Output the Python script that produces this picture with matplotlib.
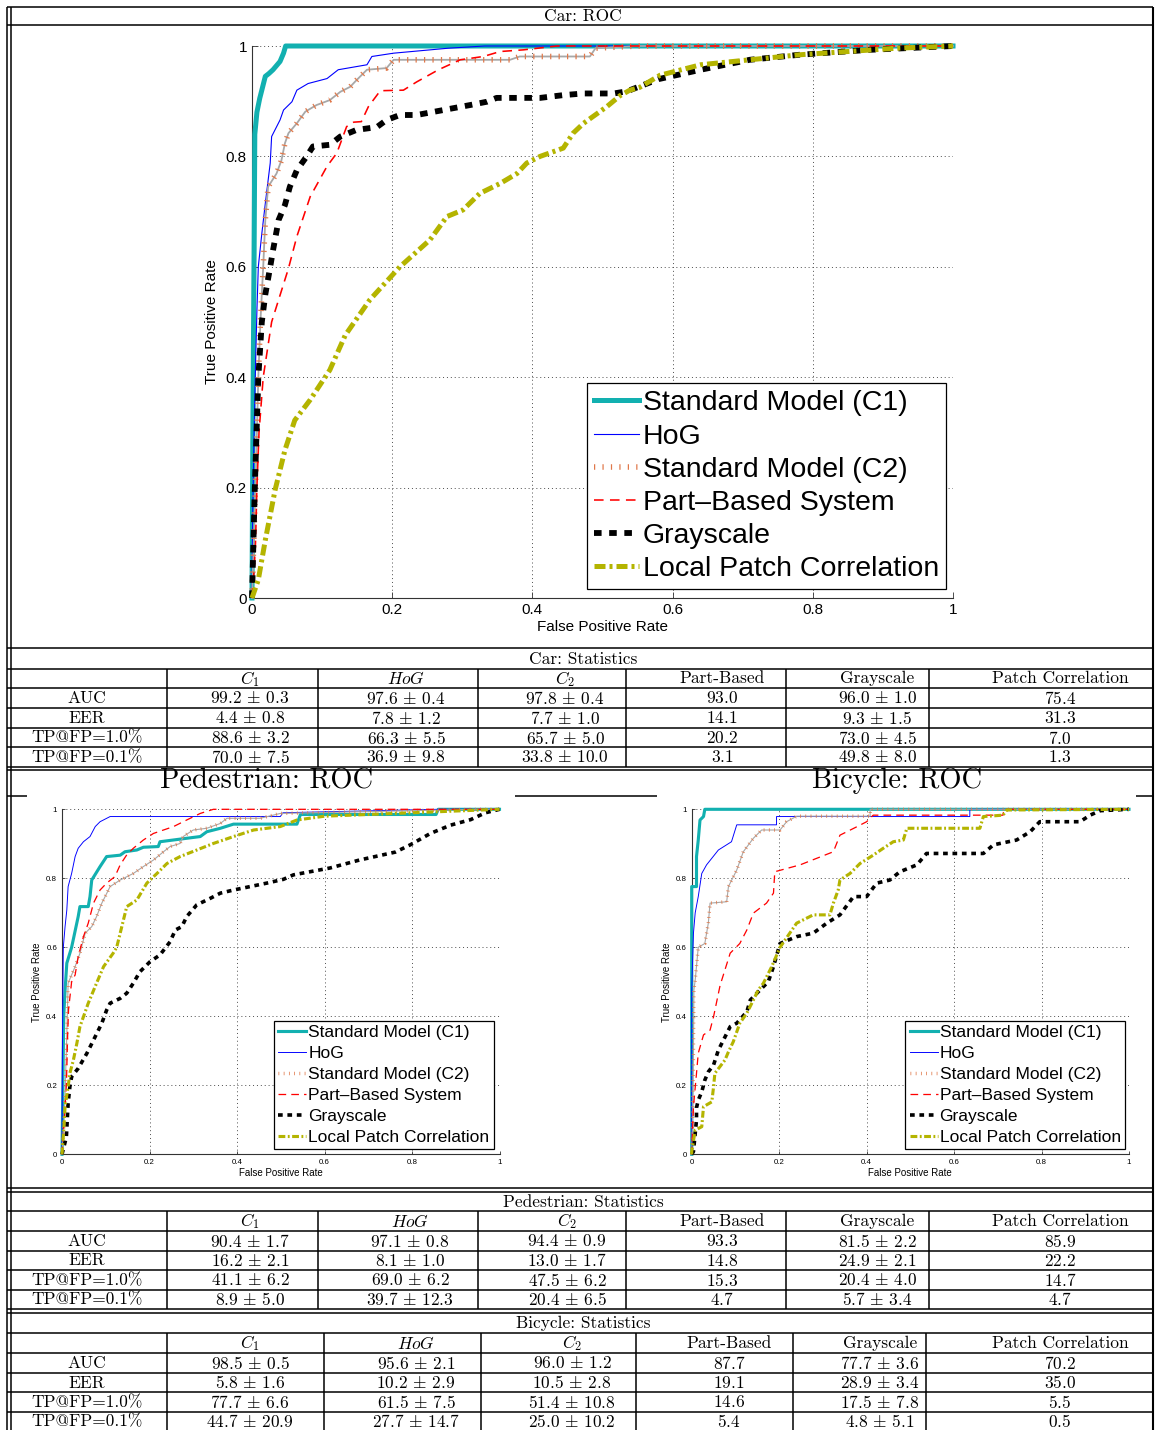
import matplotlib
matplotlib.use('Agg')
import matplotlib.pyplot as plt

W, H = 1156, 1430

plt.rcParams['font.family'] = ['Liberation Sans', 'DejaVu Sans']
plt.rcParams['mathtext.fontset'] = 'cm'
SERIF = ['cmr10', 'DejaVu Serif']

# ---------------- ROC data ----------------
# Car
car_c1_fpr = [0, 0.001, 0.002, 0.003, 0.004, 0.007, 0.011, 0.014, 0.019, 0.024, 0.030, 0.040, 0.045, 0.048, 1.0]
car_c1_tpr = [0, 0.25, 0.45, 0.62, 0.84, 0.88, 0.905, 0.92, 0.945, 0.95, 0.957, 0.972, 0.987, 1.0, 1.0]
car_hog_fpr = [0, 0.001, 0.003, 0.005, 0.007, 0.009, 0.014, 0.019, 0.026, 0.028, 0.040, 0.045, 0.057, 0.064,
               0.080, 0.107, 0.123, 0.164, 0.171, 0.202, 0.280, 0.332, 1.0]
car_hog_tpr = [0, 0.15, 0.30, 0.42, 0.52, 0.60, 0.66, 0.715, 0.788, 0.836, 0.866, 0.884, 0.899, 0.92,
               0.932, 0.941, 0.957, 0.966, 0.981, 0.987, 0.996, 1.0, 1.0]
car_c2_fpr = [0, 0.003, 0.006, 0.009, 0.012, 0.016, 0.019, 0.023, 0.035, 0.042, 0.047, 0.052, 0.064, 0.076,
              0.092, 0.111, 0.126, 0.140, 0.149, 0.164, 0.192, 0.202, 0.368, 0.382, 0.482, 0.490, 0.55, 1.0]
car_c2_tpr = [0, 0.12, 0.25, 0.40, 0.50, 0.60, 0.685, 0.745, 0.769, 0.793, 0.824, 0.842, 0.86, 0.881,
              0.893, 0.902, 0.917, 0.926, 0.938, 0.957, 0.96, 0.975, 0.975, 0.981, 0.981, 0.996, 1.0, 1.0]
car_part_fpr = [0, 0.003, 0.005, 0.007, 0.010, 0.016, 0.028, 0.052, 0.064, 0.083, 0.107, 0.121, 0.135, 0.145,
                0.156, 0.166, 0.173, 0.183, 0.216, 0.235, 0.266, 0.297, 0.330, 0.354, 0.387, 0.435, 1.0]
car_part_tpr = [0, 0.05, 0.10, 0.20, 0.30, 0.40, 0.50, 0.597, 0.655, 0.727, 0.782, 0.806, 0.854, 0.862,
                0.863, 0.89, 0.902, 0.919, 0.92, 0.935, 0.957, 0.975, 0.981, 0.99, 0.993, 1.0, 1.0]
car_gray_fpr = [0, 0.002, 0.004, 0.009, 0.014, 0.019, 0.026, 0.030, 0.038, 0.047, 0.054, 0.064, 0.078, 0.087,
                0.111, 0.126, 0.149, 0.178, 0.192, 0.211, 0.235, 0.273, 0.311, 0.335, 0.349, 0.411, 0.444,
                0.473, 0.516, 0.535, 0.58, 0.64, 0.71, 0.78, 0.88, 1.0]
car_gray_tpr = [0, 0.1, 0.2, 0.4, 0.5, 0.55, 0.60, 0.63, 0.685, 0.712, 0.745, 0.775, 0.80, 0.818,
                0.821, 0.836, 0.848, 0.853, 0.866, 0.875, 0.875, 0.884, 0.893, 0.899, 0.906, 0.906, 0.911,
                0.914, 0.914, 0.918, 0.94, 0.957, 0.975, 0.984, 0.993, 1.0]
car_lpc_fpr = [0, 0.009, 0.019, 0.033, 0.047, 0.061, 0.083, 0.111, 0.133, 0.168, 0.211, 0.254, 0.278, 0.301,
               0.325, 0.354, 0.378, 0.392, 0.411, 0.444, 0.458, 0.473, 0.506, 0.525, 0.539, 0.553, 0.582,
               0.64, 0.71, 0.78, 0.92, 1.0]
car_lpc_tpr = [0, 0.033, 0.105, 0.196, 0.268, 0.322, 0.359, 0.413, 0.476, 0.54, 0.60, 0.649, 0.691, 0.703,
               0.733, 0.751, 0.769, 0.788, 0.80, 0.815, 0.842, 0.86, 0.89, 0.91, 0.92, 0.925, 0.947,
               0.966, 0.975, 0.984, 0.996, 1.0]

# Pedestrian
ped_c1_fpr = [0, 0.002, 0.004, 0.007, 0.011, 0.022, 0.037, 0.041, 0.060, 0.064, 0.068, 0.087, 0.102, 0.133,
              0.144, 0.171, 0.186, 0.220, 0.224, 0.285, 0.316, 0.331, 0.362, 0.392, 0.537, 0.545, 0.855, 0.86, 1.0]
ped_c1_tpr = [0, 0.2, 0.4, 0.476, 0.554, 0.60, 0.689, 0.718, 0.718, 0.747, 0.795, 0.834, 0.863, 0.867,
              0.877, 0.882, 0.89, 0.892, 0.906, 0.916, 0.921, 0.935, 0.945, 0.957, 0.957, 0.985, 0.985, 1.0, 1.0]
ped_hog_fpr = [0, 0.001, 0.002, 0.003, 0.007, 0.011, 0.014, 0.022, 0.030, 0.037, 0.049, 0.064, 0.076, 0.087,
               0.110, 0.499, 0.505, 0.86, 1.0]
ped_hog_tpr = [0, 0.3, 0.476, 0.60, 0.66, 0.708, 0.776, 0.814, 0.863, 0.887, 0.906, 0.921, 0.95, 0.964,
               0.979, 0.979, 0.99, 1.0, 1.0]
ped_c2_fpr = [0, 0.005, 0.010, 0.014, 0.030, 0.041, 0.053, 0.068, 0.079, 0.091, 0.110, 0.133, 0.163, 0.186,
              0.209, 0.232, 0.247, 0.270, 0.277, 0.300, 0.331, 0.362, 0.377, 0.453, 0.499, 0.95, 1.0]
ped_c2_tpr = [0, 0.1, 0.3, 0.496, 0.544, 0.583, 0.641, 0.66, 0.689, 0.728, 0.776, 0.795, 0.814, 0.834,
              0.853, 0.877, 0.892, 0.901, 0.921, 0.94, 0.945, 0.959, 0.974, 0.974, 0.988, 1.0, 1.0]
ped_part_fpr = [0, 0.005, 0.010, 0.013, 0.015, 0.022, 0.030, 0.037, 0.049, 0.060, 0.072, 0.087, 0.102, 0.121,
                0.133, 0.148, 0.163, 0.186, 0.209, 0.255, 0.285, 0.316, 0.346, 1.0]
ped_part_tpr = [0, 0.1, 0.2, 0.35, 0.42, 0.50, 0.52, 0.573, 0.631, 0.67, 0.728, 0.766, 0.786, 0.805,
                0.839, 0.868, 0.887, 0.911, 0.93, 0.95, 0.969, 0.988, 1.0, 1.0]
ped_gray_fpr = [0, 0.010, 0.014, 0.018, 0.022, 0.037, 0.057, 0.072, 0.091, 0.102, 0.110, 0.133, 0.148, 0.163,
                0.178, 0.201, 0.224, 0.247, 0.259, 0.274, 0.285, 0.308, 0.339, 0.362, 0.392, 0.430, 0.468,
                0.506, 0.529, 0.613, 0.68, 0.762, 0.796, 0.842, 0.888, 0.934, 0.968, 1.0]
ped_gray_tpr = [0, 0.05, 0.148, 0.196, 0.225, 0.249, 0.293, 0.331, 0.38, 0.418, 0.438, 0.452, 0.467, 0.496,
                0.529, 0.558, 0.578, 0.616, 0.65, 0.66, 0.689, 0.723, 0.742, 0.757, 0.766, 0.776, 0.786,
                0.797, 0.81, 0.83, 0.853, 0.876, 0.897, 0.93, 0.954, 0.97, 0.99, 1.0]
ped_lpc_fpr = [0, 0.004, 0.007, 0.014, 0.018, 0.026, 0.034, 0.041, 0.060, 0.079, 0.095, 0.117, 0.125, 0.133,
               0.148, 0.171, 0.194, 0.217, 0.240, 0.270, 0.308, 0.346, 0.392, 0.438, 0.499, 0.537, 0.6, 0.8, 1.0]
ped_lpc_tpr = [0, 0.07, 0.138, 0.196, 0.235, 0.273, 0.322, 0.37, 0.438, 0.496, 0.544, 0.583, 0.60, 0.641,
               0.718, 0.737, 0.786, 0.814, 0.843, 0.863, 0.882, 0.901, 0.921, 0.94, 0.95, 0.969, 0.98, 0.99, 1.0]

# Bicycle
bic_c1_fpr = [0, 0.0, 0.011, 0.011, 0.015, 0.019, 0.027, 0.030, 1.0]
bic_c1_tpr = [0, 0.776, 0.776, 0.863, 0.911, 0.969, 0.979, 1.0, 1.0]
bic_hog_fpr = [0, 0.0, 0.004, 0.008, 0.015, 0.023, 0.034, 0.061, 0.091, 0.103, 0.194, 0.194, 0.636, 0.636, 1.0]
bic_hog_tpr = [0, 0.476, 0.641, 0.70, 0.747, 0.814, 0.839, 0.882, 0.906, 0.955, 0.955, 0.979, 0.979, 1.0, 1.0]
bic_c2_fpr = [0, 0.002, 0.004, 0.005, 0.008, 0.015, 0.030, 0.038, 0.042, 0.080, 0.084, 0.103, 0.118, 0.141,
              0.160, 0.202, 0.217, 0.240, 0.408, 0.408, 1.0]
bic_c2_tpr = [0, 0.1, 0.3, 0.476, 0.505, 0.60, 0.611, 0.67, 0.728, 0.732, 0.776, 0.824, 0.877, 0.916,
              0.94, 0.94, 0.964, 0.98, 0.98, 1.0, 1.0]
bic_part_fpr = [0, 0.004, 0.011, 0.015, 0.027, 0.042, 0.050, 0.065, 0.088, 0.110, 0.126, 0.141, 0.171, 0.187,
                0.190, 0.248, 0.286, 0.324, 0.339, 0.377, 0.400, 0.415, 0.712, 0.714, 1.0]
bic_part_tpr = [0, 0.138, 0.235, 0.293, 0.346, 0.36, 0.399, 0.49, 0.583, 0.611, 0.65, 0.699, 0.728, 0.757,
                0.819, 0.839, 0.858, 0.877, 0.925, 0.949, 0.964, 0.983, 0.983, 1.0, 1.0]
bic_gray_fpr = [0, 0.004, 0.011, 0.011, 0.015, 0.023, 0.030, 0.038, 0.050, 0.061, 0.088, 0.103, 0.126, 0.134,
                0.156, 0.175, 0.187, 0.202, 0.240, 0.278, 0.309, 0.339, 0.370, 0.400, 0.423, 0.453, 0.476,
                0.515, 0.537, 0.667, 0.690, 0.743, 0.774, 0.796, 0.888, 0.911, 0.934, 1.0]
bic_gray_tpr = [0, 0.008, 0.1, 0.135, 0.157, 0.181, 0.215, 0.239, 0.259, 0.302, 0.37, 0.38, 0.413, 0.447,
                0.476, 0.50, 0.544, 0.611, 0.631, 0.641, 0.67, 0.694, 0.747, 0.747, 0.786, 0.795, 0.819,
                0.839, 0.872, 0.872, 0.897, 0.911, 0.935, 0.964, 0.964, 0.983, 0.996, 1.0]
bic_lpc_fpr = [0, 0.0, 0.008, 0.023, 0.027, 0.046, 0.050, 0.053, 0.076, 0.084, 0.095, 0.110, 0.126, 0.141,
               0.152, 0.164, 0.183, 0.202, 0.240, 0.278, 0.316, 0.324, 0.335, 0.339, 0.362, 0.385, 0.415,
               0.438, 0.461, 0.484, 0.492, 0.659, 0.667, 0.712, 0.720, 1.0]
bic_lpc_tpr = [0, 0.008, 0.07, 0.08, 0.138, 0.152, 0.196, 0.235, 0.273, 0.297, 0.326, 0.38, 0.409, 0.447,
               0.476, 0.496, 0.544, 0.60, 0.67, 0.694, 0.694, 0.728, 0.766, 0.795, 0.814, 0.843, 0.867,
               0.887, 0.906, 0.911, 0.945, 0.945, 0.979, 0.983, 0.998, 1.0]

method_names = ['Standard Model (C1)', 'HoG', 'Standard Model (C2)', 'Part\u2013Based System',
                'Grayscale', 'Local Patch Correlation']

# ---------------- table data ----------------
row_labels = ['AUC', 'EER', 'TP@FP=1.0%', 'TP@FP=0.1%']
col_labels = [r'$C_1$', r'$HoG$', r'$C_2$', 'Part-Based', 'Grayscale', 'Patch Correlation']

car_mean = [[99.2, 97.6, 97.8, 93.0, 96.0, 75.4],
            [4.4, 7.8, 7.7, 14.1, 9.3, 31.3],
            [88.6, 66.3, 65.7, 20.2, 73.0, 7.0],
            [70.0, 36.9, 33.8, 3.1, 49.8, 1.3]]
car_std = [[0.3, 0.4, 0.4, None, 1.0, None],
           [0.8, 1.2, 1.0, None, 1.5, None],
           [3.2, 5.5, 5.0, None, 4.5, None],
           [7.5, 9.8, 10.0, None, 8.0, None]]
ped_mean = [[90.4, 97.1, 94.4, 93.3, 81.5, 85.9],
            [16.2, 8.1, 13.0, 14.8, 24.9, 22.2],
            [41.1, 69.0, 47.5, 15.3, 20.4, 14.7],
            [8.9, 39.7, 20.4, 4.7, 5.7, 4.7]]
ped_std = [[1.7, 0.8, 0.9, None, 2.2, None],
           [2.1, 1.0, 1.7, None, 2.1, None],
           [6.2, 6.2, 6.2, None, 4.0, None],
           [5.0, 12.3, 6.5, None, 3.4, None]]
bic_mean = [[98.5, 95.6, 96.0, 87.7, 77.7, 70.2],
            [5.8, 10.2, 10.5, 19.1, 28.9, 35.0],
            [77.7, 61.5, 51.4, 14.6, 17.5, 5.5],
            [44.7, 27.7, 25.0, 5.4, 4.8, 0.5]]
bic_std = [[0.5, 2.1, 1.2, None, 3.6, None],
           [1.6, 2.9, 2.8, None, 3.4, None],
           [6.6, 7.5, 10.8, None, 7.8, None],
           [20.9, 14.7, 10.2, None, 5.1, None]]

fig = plt.figure(figsize=(W / 100, H / 100), dpi=100)
frame = fig.add_axes([0, 0, 1, 1])
frame.set_xlim(0, W)
frame.set_ylim(H, 0)
frame.axis('off')


def hline(y, x0=6.5, x1=1152.8, lw=1.1):
    frame.plot([x0, x1], [y, y], color='k', lw=lw, solid_capstyle='butt')


def vline(x, y0, y1, lw=1.1):
    frame.plot([x, x], [y0, y1], color='k', lw=lw, solid_capstyle='butt')


def ftext(x, y, s, size=12.5, **kw):
    frame.text(x, y, s, ha='center', va='center', fontsize=size, family=SERIF, **kw)


# outer borders
vline(6.5, 7, H)
vline(10.5, 7, H)
vline(1152.8, 7, H, lw=1.5)

# Car ROC box
hline(7)
hline(25.3)
ftext(583, 16.5, 'Car: ROC')
hline(648.3)

# Ped / Bicycle ROC box
hline(770)
ftext(267, 781, 'Pedestrian: ROC', size=20.5)
ftext(897, 781, 'Bicycle: ROC', size=20.5)
hline(796, 6.5, 27)
hline(796, 515, 657)
hline(796, 1136, 1152.8)
hline(1188.3)


def draw_table(title, top, line_ys, seps, centers, mean, std, bottom):
    ftext(583, (top + line_ys[0]) / 2 + 0.5, title)
    for y in line_ys:
        hline(y)
    for x in seps:
        vline(x, line_ys[0], bottom)
    hdr_y = (line_ys[0] + line_ys[1]) / 2 + 0.5
    for cx, lab in zip(centers[1:], col_labels):
        ftext(cx, hdr_y, lab)
    ys = [(line_ys[i] + (line_ys[i + 1] if i + 1 < len(line_ys) else bottom)) / 2 + 0.5
          for i in range(1, len(line_ys))]
    for r, lab in enumerate(row_labels):
        ftext(centers[0], ys[r], lab)
        for c in range(6):
            m, s = mean[r][c], std[r][c]
            txt = r'$%.1f$' % m if s is None else r'$%.1f\,\pm\,%.1f$' % (m, s)
            ftext(centers[c + 1], ys[r], txt)


car_seps = [167, 317.5, 477.5, 626, 786, 928.5]
bic_seps = [167, 323.5, 480.5, 636, 792.5, 925.5]
car_x = [87, 250, 406, 565, 722, 877, 1060]
ped_x = [87, 250, 410, 567, 722, 877, 1060]
bic_x = [87, 250, 416, 572, 729, 880, 1060]

draw_table('Car: Statistics', 648.3, [668.5, 687.7, 707.7, 727.7, 747.3], car_seps, car_x,
           car_mean, car_std, 766.7)
hline(766.7)
draw_table('Pedestrian: Statistics', 1192.3, [1210.5, 1230.7, 1250.7, 1269.8, 1289.5], car_seps, ped_x,
           ped_mean, ped_std, 1309.3)
hline(1192.3)
hline(1309.3)
draw_table('Bicycle: Statistics', 1313.3, [1333.3, 1352.7, 1372.7, 1392, 1411.7], bic_seps, bic_x,
           bic_mean, bic_std, 1431)
hline(1313.3)

# ---------------- ROC axes ----------------
CYAN = '#12B0B0'
ORANGE = '#E0784A'
OLIVE = '#B4B400'


def px_axes(x0, x1, y0, y1):
    return fig.add_axes([x0 / W, 1 - y1 / H, (x1 - x0) / W, (y1 - y0) / H])


def roc_panel(ax, curves, s, tick_fs, lab_fs, leg_fs, leg_anchor, tickpad, ylabpad, xlabpad, lspace):
    (c1f, c1t), (hogf, hogt), (c2f, c2t), (pf, pt), (gf, gt), (lf, lt) = curves
    ax.plot(c1f, c1t, color=CYAN, lw=3.6 * s, label=method_names[0], clip_on=False, zorder=3)
    ax.plot(hogf, hogt, color='#0000FF', lw=0.8 * max(s, 0.85), label=method_names[1], clip_on=False, zorder=3)
    ax.plot(c2f, c2t, color='#A8A8A8', lw=1.3 * s, clip_on=False, zorder=3)
    ax.plot(c2f, c2t, color=ORANGE, lw=4.0 * s, linestyle=(0, (0.22, 1.3)), dash_capstyle='butt',
            label=method_names[2], clip_on=False, zorder=3)
    red_lw = 1.15 * max(s, 0.8)
    ax.plot(pf, pt, color='#FF0000', lw=red_lw, linestyle=(0, (6, 4)), label=method_names[3],
            clip_on=False, zorder=3)
    ax.plot(gf, gt, color='k', lw=4.2 * s, linestyle=(0, (1.3, 1.3)), dash_capstyle='butt',
            label=method_names[4], clip_on=False, zorder=3)
    ax.plot(lf, lt, color=OLIVE, lw=3.6 * s, linestyle=(0, (2.2, 0.8, 0.6, 0.8)), dash_capstyle='butt',
            label=method_names[5], clip_on=False, zorder=3)
    ax.set_xlim(0, 1)
    ax.set_ylim(0, 1)
    ticks = [0, 0.2, 0.4, 0.6, 0.8, 1]
    tlabels = ['0', '0.2', '0.4', '0.6', '0.8', '1']
    ax.set_xticks(ticks)
    ax.set_xticklabels(tlabels)
    ax.set_yticks(ticks)
    ax.set_yticklabels(tlabels)
    ax.tick_params(direction='in', length=4 * s, width=0.6, labelsize=tick_fs, pad=tickpad, color='0.2')
    ax.grid(True, linestyle=(0, (1, 3)), color='0.3', lw=0.7)
    for side in ['top', 'right']:
        ax.spines[side].set_visible(False)
    for side in ['left', 'bottom']:
        ax.spines[side].set_color('0.2')
        ax.spines[side].set_linewidth(0.8)
    ax.set_xlabel('False Positive Rate', fontsize=lab_fs, labelpad=xlabpad)
    ax.set_ylabel('True Positive Rate', fontsize=lab_fs, labelpad=ylabpad)
    leg = ax.legend(loc='lower right', bbox_to_anchor=leg_anchor, borderaxespad=0, fontsize=leg_fs,
                    fancybox=False, framealpha=1, edgecolor='k', borderpad=0.25, labelspacing=lspace,
                    handlelength=1.6, handletextpad=0.12)
    leg.get_frame().set_linewidth(0.9)
    leg.set_zorder(5)


ax_car = px_axes(252, 953, 46, 598)
roc_panel(ax_car, [(car_c1_fpr, car_c1_tpr), (car_hog_fpr, car_hog_tpr), (car_c2_fpr, car_c2_tpr),
                   (car_part_fpr, car_part_tpr), (car_gray_fpr, car_gray_tpr), (car_lpc_fpr, car_lpc_tpr)],
          1.0, 11, 11, 20.5, (0.99, 0.016), 3.6, 5, 2, 0.25)

ax_ped = px_axes(62, 499.5, 809.3, 1154.3)
roc_panel(ax_ped, [(ped_c1_fpr, ped_c1_tpr), (ped_hog_fpr, ped_hog_tpr), (ped_c2_fpr, ped_c2_tpr),
                   (ped_part_fpr, ped_part_tpr), (ped_gray_fpr, ped_gray_tpr), (ped_lpc_fpr, ped_lpc_tpr)],
          0.62, 5.7, 7, 12.5, (0.987, 0.015), 3.5, 3, 1.2, 0.33)

ax_bic = px_axes(691.7, 1129, 809.3, 1154.3)
roc_panel(ax_bic, [(bic_c1_fpr, bic_c1_tpr), (bic_hog_fpr, bic_hog_tpr), (bic_c2_fpr, bic_c2_tpr),
                   (bic_part_fpr, bic_part_tpr), (bic_gray_fpr, bic_gray_tpr), (bic_lpc_fpr, bic_lpc_tpr)],
          0.62, 5.7, 7, 12.5, (0.991, 0.015), 3.5, 3, 1.2, 0.33)

fig.savefig('out.png', dpi=100)
